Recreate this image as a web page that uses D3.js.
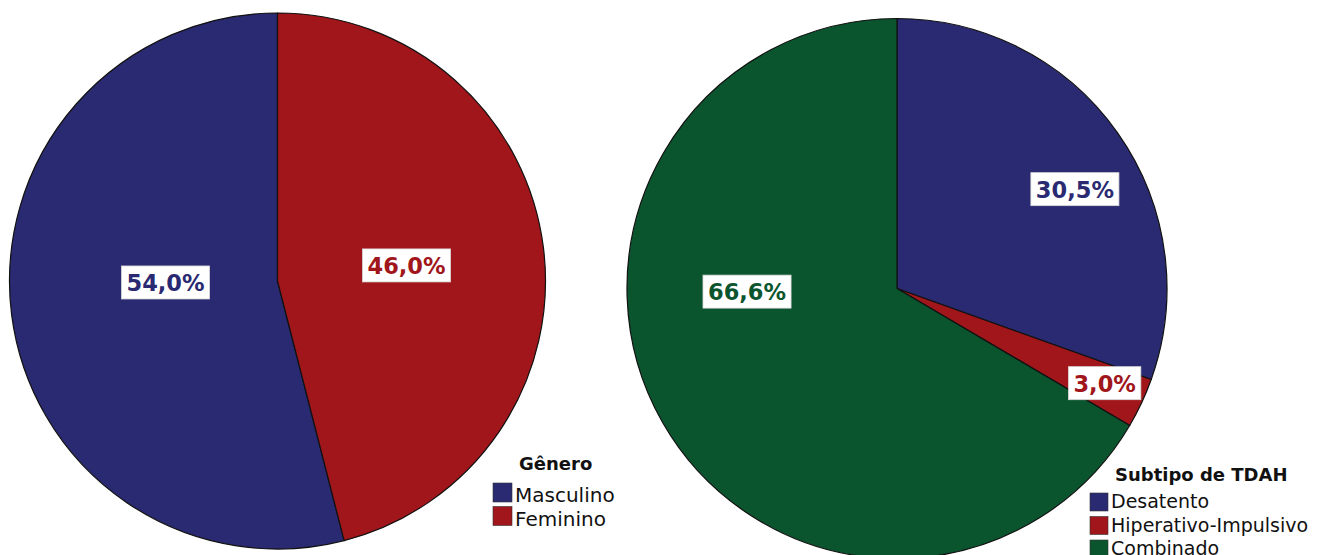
<!DOCTYPE html>
<html>
<head>
<meta charset="utf-8">
<script src="https://cdn.jsdelivr.net/npm/d3@7"></script>
<style>
  html, body { margin: 0; padding: 0; background: #ffffff; }
  svg { display: block; }
</style>
</head>
<body>
<svg id="chart" width="1325" height="555"></svg>
<script>
// Distribution by gender
const generoTitle = "Gênero";
const generoCategories = ["Masculino", "Feminino"];
const generoValues = [54.0, 46.0];

// Distribution by ADHD subtype
const subtipoTitle = "Subtipo de TDAH";
const subtipoCategories = ["Desatento", "Hiperativo-Impulsivo", "Combinado"];
const subtipoValues = [30.5, 3.0, 66.6];

const sliceColors = ["#2a2a72", "#a0161b", "#0b552e"];

// Label anchor placement (polar: degrees clockwise from 12 o'clock, distance from centre)
const generoLabelPolar = [[269.5, 112], [82.9, 130]];
const subtipoLabelPolar = [[60.7, 204], [114.4, 228], [269, 150]];

const svg = d3.select("#chart");
const fmt = v => d3.format(".1f")(v).replace(".", ",") + "%";

function drawPie(cfg) {
  const g = svg.append("g").attr("transform", `translate(${cfg.cx},${cfg.cy})`);
  const pie = d3.pie().sort(null).value(d => d.value)
    .startAngle(0).endAngle(cfg.clockwise ? 2 * Math.PI : -2 * Math.PI);
  const data = cfg.categories.map((c, i) => ({ name: c, value: cfg.values[i], color: sliceColors[i] }));
  const arcs = pie(data);
  const arc = d3.arc().innerRadius(0).outerRadius(cfg.r);

  g.selectAll("path.slice").data(arcs).join("path")
    .attr("class", "slice")
    .attr("d", arc)
    .attr("fill", d => d.data.color)
    .attr("stroke", "#111")
    .attr("stroke-width", 1.2)
    .attr("stroke-linejoin", "round");

  // value labels
  arcs.forEach((d, i) => {
    const [deg, rad] = cfg.labelPolar[i];
    const a = deg * Math.PI / 180;
    const x = Math.sin(a) * rad, y = -Math.cos(a) * rad;
    const lg = g.append("g").attr("transform", `translate(${x},${y})`);
    const t = lg.append("text")
      .attr("text-anchor", "middle")
      .attr("dominant-baseline", "central")
      .attr("y", 1)
      .attr("font-family", "DejaVu Sans, sans-serif")
      .attr("font-weight", "bold")
      .attr("font-size", 22.5)
      .attr("fill", d.data.color)
      .text(fmt(d.data.value));
    const bb = t.node().getBBox();
    lg.insert("rect", "text")
      .attr("x", bb.x - 5).attr("y", -16)
      .attr("width", bb.width + 10).attr("height", 33)
      .attr("fill", "#ffffff")
      .attr("stroke", "#d8d8d8")
      .attr("stroke-width", 0.8);
  });

  // legend
  const lgd = svg.append("g").attr("transform", `translate(${cfg.legendX},${cfg.legendY})`);
  lgd.append("text")
    .attr("x", cfg.titleDx).attr("y", 0)
    .attr("font-family", "DejaVu Sans, sans-serif")
    .attr("font-weight", "bold")
    .attr("font-size", 18)
    .attr("fill", "#111")
    .text(cfg.title);
  const rows = lgd.selectAll("g.row").data(data).join("g")
    .attr("class", "row")
    .attr("transform", (d, i) => `translate(0,${cfg.firstRow + i * cfg.rowStep})`);
  rows.append("rect")
    .attr("x", 0).attr("y", cfg.swatchY)
    .attr("width", cfg.swatch).attr("height", cfg.swatch)
    .attr("fill", d => d.color)
    .attr("stroke", "#333")
    .attr("stroke-width", 0.6);
  rows.append("text")
    .attr("x", cfg.swatch + 3).attr("y", 0)
    .attr("font-family", "DejaVu Sans, sans-serif")
    .attr("font-size", cfg.legendFont)
    .attr("fill", "#111")
    .text(d => d.name);
}

drawPie({
  cx: 277.5, cy: 281, r: 268, clockwise: false,
  categories: generoCategories, values: generoValues, labelPolar: generoLabelPolar,
  title: generoTitle, legendX: 493, legendY: 470, titleDx: 26,
  firstRow: 32, rowStep: 23.5, legendFont: 20, swatch: 19, swatchY: -19
});

drawPie({
  cx: 897, cy: 288.5, r: 270, clockwise: true,
  categories: subtipoCategories, values: subtipoValues, labelPolar: subtipoLabelPolar,
  title: subtipoTitle, legendX: 1090, legendY: 481, titleDx: 25,
  firstRow: 27, rowStep: 23.5, legendFont: 19, swatch: 18, swatchY: -15
});
</script>
</body>
</html>
